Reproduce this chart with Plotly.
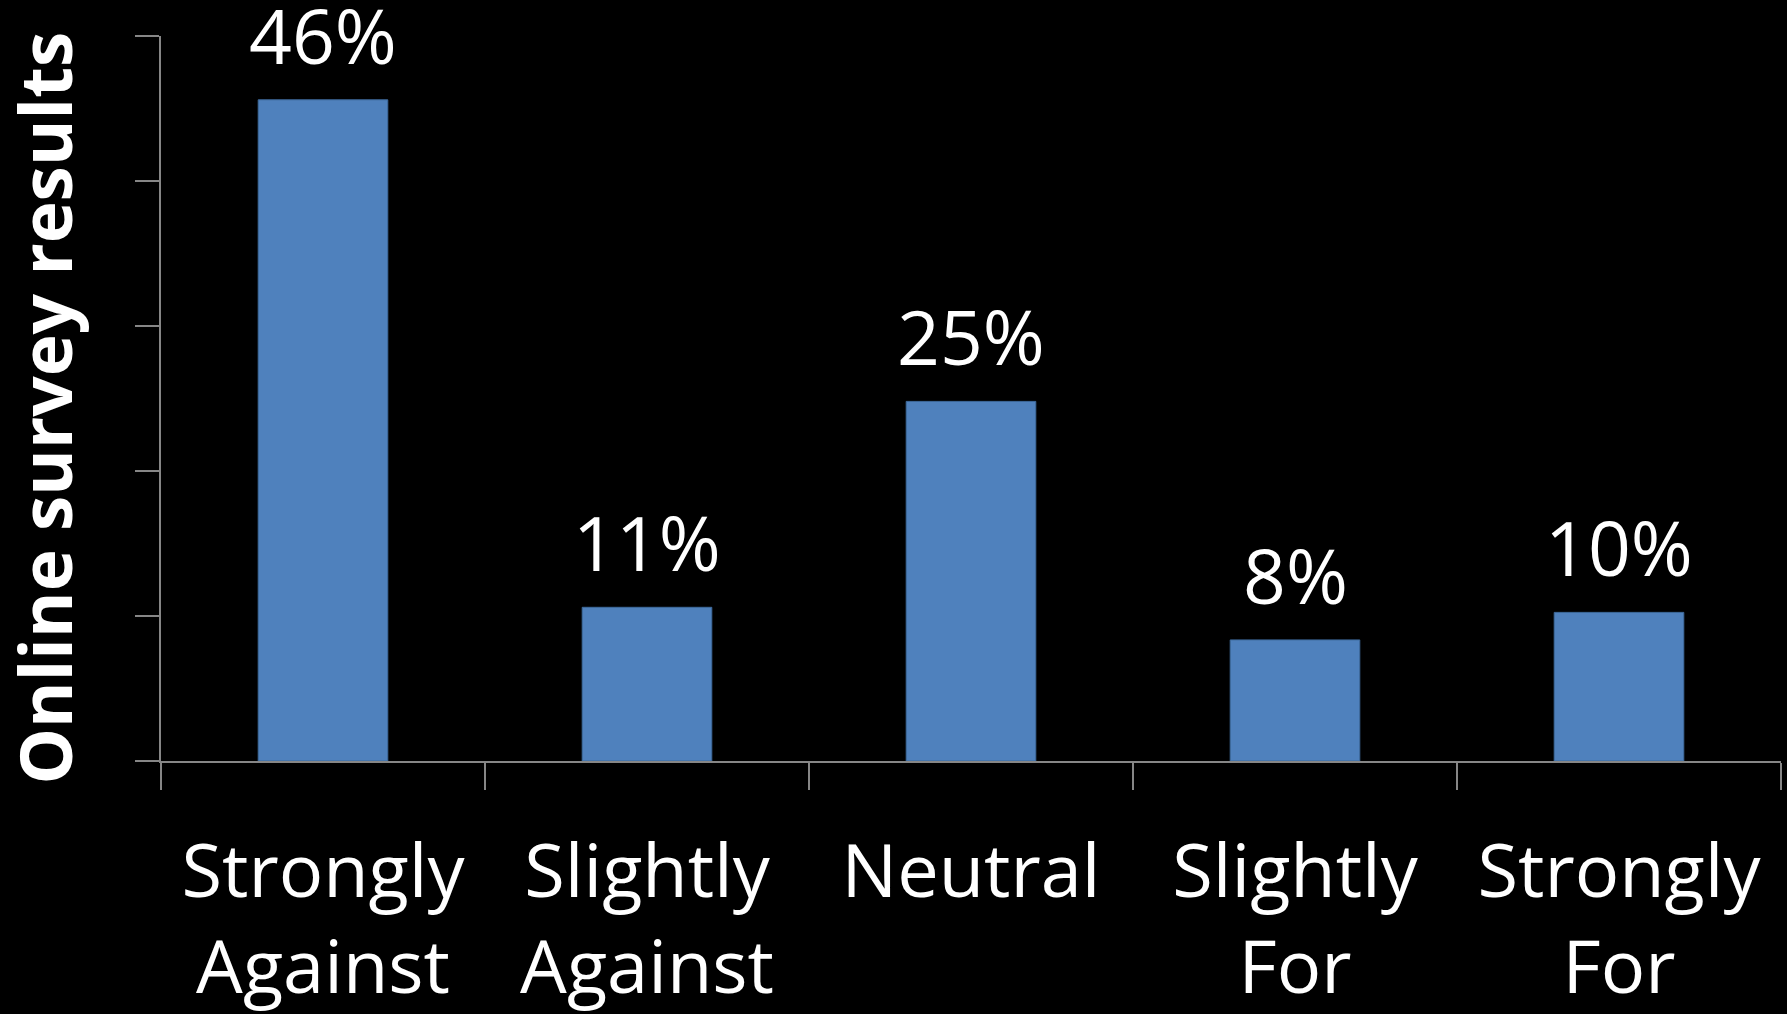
import plotly.graph_objects as go

categories = ["Strongly<br>Against", "Slightly<br>Against", "Neutral", "Slightly<br>For", "Strongly<br>For"]
values = [45.6, 10.6, 24.8, 8.35, 10.25]
value_labels = ["46%", "11%", "25%", "8%", "10%"]
y_title = "Online survey results"
y_ticks = [0, 10, 20, 30, 40, 50]

BAR = "#4F81BD"
AXIS = "#868686"
FONT = "Open Sans"

fig = go.Figure()
fig.add_trace(go.Bar(
    x=categories, y=values,
    marker=dict(color=BAR, line=dict(color="#3E6A9C", width=1)),
    hoverinfo="skip",
))

for c, v, t in zip(categories, values, value_labels):
    fig.add_annotation(x=c, y=v, text=t, showarrow=False, xref="x", yref="y",
                       yanchor="bottom", yshift=13, borderpad=0,
                       font=dict(family=FONT, size=75, color="white"))

fig.add_annotation(text=f"<b>{y_title}</b>", textangle=-90, showarrow=False,
                   xref="paper", yref="paper", x=0, y=0.5, xanchor="center", yanchor="middle",
                   xshift=-117, yshift=-10, borderpad=0,
                   font=dict(family=FONT, size=71, color="white"))

fig.update_layout(
    width=1787, height=1014,
    margin=dict(l=161, r=6, t=36, b=253),
    paper_bgcolor="black", plot_bgcolor="black",
    bargap=0.6, showlegend=False,
    font=dict(family=FONT, color="white"),
)
fig.update_xaxes(
    type="category", showline=True, linecolor=AXIS, linewidth=2,
    ticks="outside", tickson="boundaries", ticklen=27, tickcolor=AXIS, tickwidth=2,
    ticklabelstandoff=45, automargin=False,
    tickfont=dict(family=FONT, size=74, color="white"), showgrid=False, zeroline=False,
)
fig.update_yaxes(
    range=[0, 50], tickvals=y_ticks, showticklabels=False,
    showline=True, linecolor=AXIS, linewidth=2,
    ticks="outside", ticklen=24, tickcolor=AXIS, tickwidth=2, automargin=False,
    showgrid=False, zeroline=False,
)

fig.write_html("out.html")
